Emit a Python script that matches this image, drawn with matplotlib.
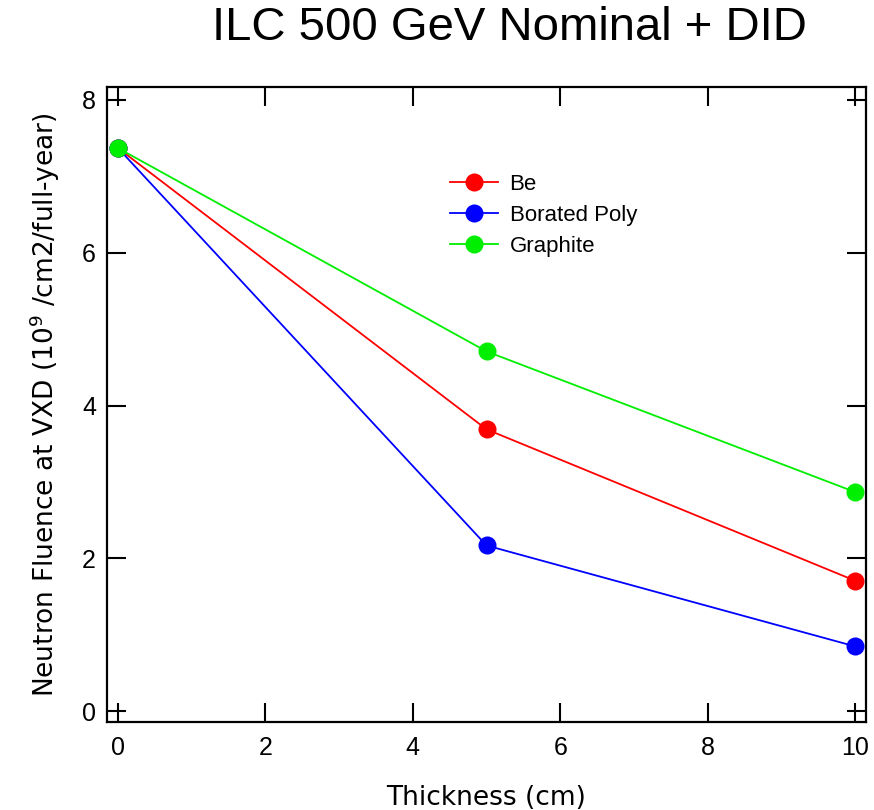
import matplotlib
matplotlib.use("Agg")
import matplotlib.pyplot as plt

plt.rcParams["font.family"] = "Liberation Sans"

# shield thickness in cm and neutron fluence (1e9 /cm2/full-year)
thickness = [0, 5, 10]
be = [7.37, 3.69, 1.71]
borated_poly = [7.37, 2.17, 0.85]
graphite = [7.37, 4.71, 2.87]

series = [
    ("Be", be, "#ff0000"),
    ("Borated Poly", borated_poly, "#0000ff"),
    ("Graphite", graphite, "#00ee00"),
]

fig = plt.figure(figsize=(8.74, 8.10), dpi=100)
ax = fig.add_axes([107/874, 1 - 722/810, (866-107)/874, (722-87)/810])

for name, vals, col in series:
    ax.plot(thickness, vals, color=col, lw=1.3, marker="o", ms=13,
            markeredgewidth=0, label=name)

ax.set_xlim(-0.15, 10.15)
ax.set_ylim(-0.14, 8.17)
ax.set_xticks([0, 2, 4, 6, 8, 10])
ax.set_yticks([0, 2, 4, 6, 8])
ax.tick_params(direction="in", length=14, width=1.5, top=True, right=True,
               labelsize=18, pad=10)
ax.tick_params(axis="y", pad=8)
for sp in ax.spines.values():
    sp.set_linewidth(1.6)

ax.set_xlabel("Thickness (cm)", fontsize=19, labelpad=18,
              family="DejaVu Sans")
ax.set_ylabel(r"Neutron Fluence at VXD (10$^{9}$ /cm2/full-year)",
              fontsize=19, labelpad=14, family="DejaVu Sans")

leg = ax.legend(loc="upper left", bbox_to_anchor=(0.425, 0.895), frameon=False,
                fontsize=16, handlelength=2.2, handletextpad=0.5,
                labelspacing=0.45)

fig.text(509/874, 1 - 28/810, "ILC 500 GeV Nominal + DID", ha="center",
         va="center", fontsize=34)

fig.savefig("out.png", dpi=100)
